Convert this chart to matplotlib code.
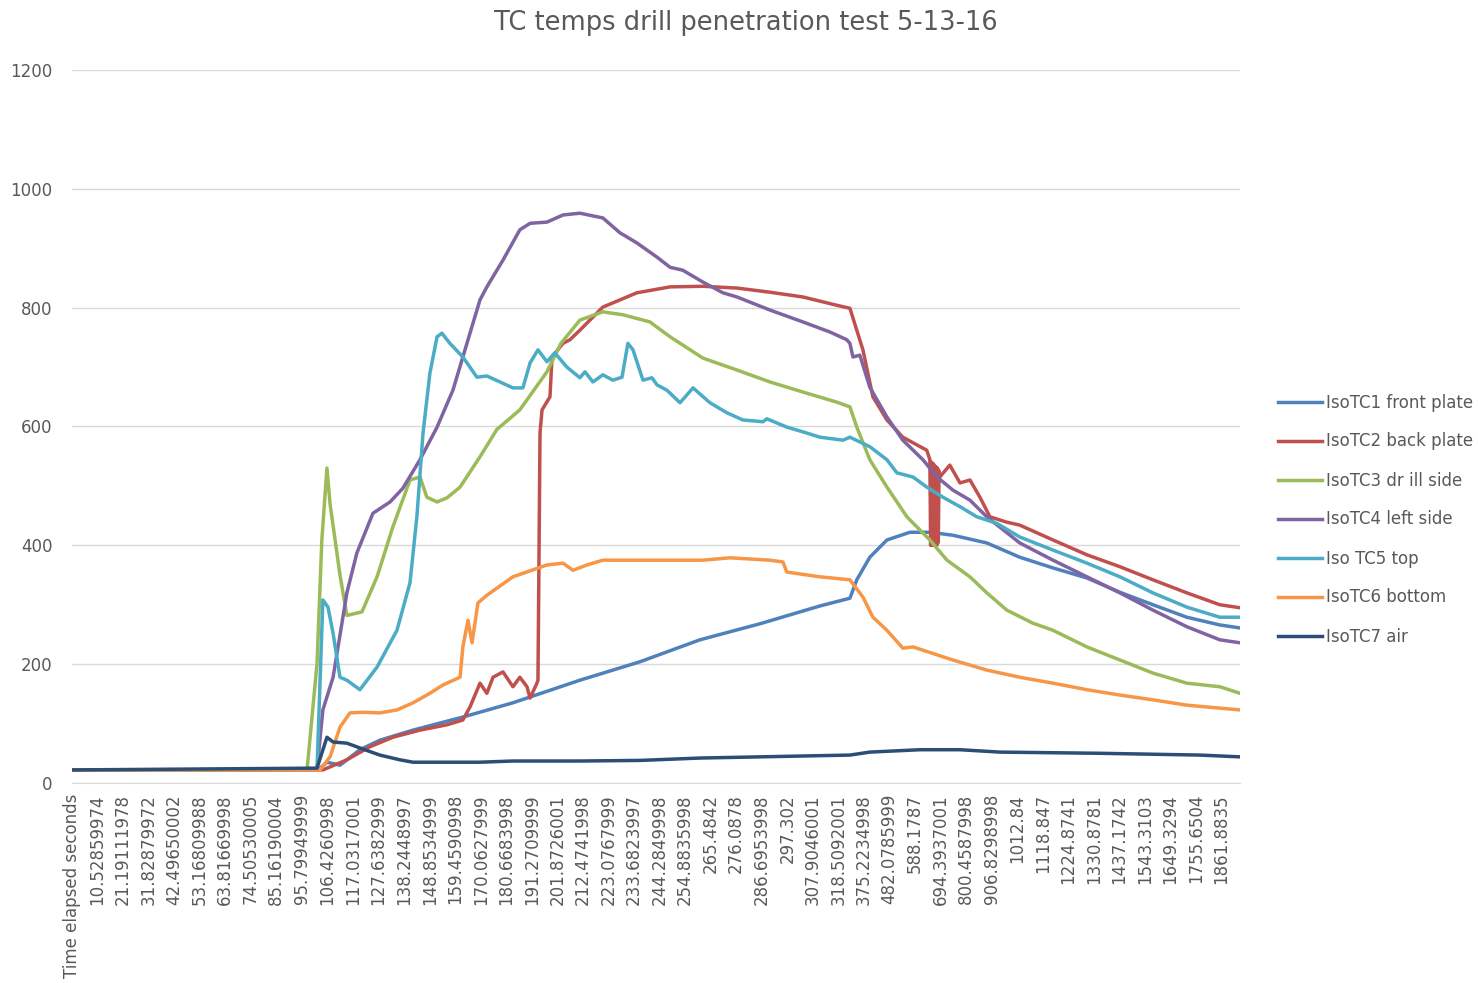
import matplotlib
matplotlib.use("Agg")
import matplotlib.pyplot as plt

# ---------------- data ----------------
title = "TC temps drill penetration test 5-13-16"

tick_labels = [
    "Time elapsed seconds", "10.52859974", "21.19111978", "31.82879972", "42.49650002",
    "53.16809988", "63.81669998", "74.50530005", "85.16190004", "95.79949999",
    "106.4260998", "117.0317001", "127.6382999", "138.2448997", "148.8534999",
    "159.4590998", "170.0627999", "180.6683998", "191.2709999", "201.8726001",
    "212.4741998", "223.0767999", "233.6823997", "244.2849998", "254.8835998",
    "265.4842", "276.0878", "286.6953998", "297.302", "307.9046001",
    "318.5092001", "375.2234998", "482.0785999", "588.1787", "694.3937001",
    "800.4587998", "906.8298998", "1012.84", "1118.847", "1224.8741",
    "1330.8781", "1437.1742", "1543.3103", "1649.3294", "1755.6504", "1861.8835",
]

# positions are in units of category-label intervals
tc1_x = [0, 9.63, 9.98, 10.49, 11.27, 12.05, 13.35, 15.30, 17.26, 19.88, 22.23, 24.58,
         26.93, 29.28, 30.45, 30.72, 31.23, 31.90, 32.80, 33.58, 34.48, 35.81, 37.10,
         38.40, 39.73, 41.02, 42.31, 43.64, 44.93, 45.72]
tc1_y = [22, 22, 35, 30, 56, 72, 89, 111, 135, 173, 204, 241,
         268, 298, 311, 342, 380, 409, 422, 422, 417, 404, 380,
         362, 345, 321, 300, 279, 266, 261]

tc2_x = [0, 9.63, 9.82, 10.76, 11.66, 12.56, 13.62, 14.68, 15.30, 15.58, 15.97, 16.24,
         16.48, 16.87, 17.26, 17.53, 17.81, 17.93, 18.20, 18.24, 18.32, 18.40, 18.71,
         18.79, 19.22, 19.49, 19.88, 20.78, 22.11, 23.41, 24.70, 26.03, 27.32, 28.61,
         29.94, 30.45, 30.96, 31.35, 31.90, 32.52, 33.46, 33.58,
         33.61, 33.64, 33.67, 33.70, 33.73, 33.76, 33.79, 33.82, 33.85, 33.88, 33.91, 33.94,
         33.97, 34.36, 34.76, 35.15, 35.54, 35.93, 36.59, 37.10, 38.40, 39.73, 41.02,
         42.31, 43.64, 44.93, 45.72]
tc2_y = [22, 22, 22, 39, 61, 77, 89, 98, 106, 128, 168, 151,
         178, 187, 162, 178, 162, 143, 168, 173, 590, 628, 650,
         717, 740, 746, 762, 801, 825, 835, 836, 833, 826, 818,
         804, 799, 729, 650, 611, 582, 560, 544,
         400, 540, 400, 538, 400, 535, 400, 532, 400, 530, 405, 525,
         515, 535, 505, 510, 481, 448, 439, 434, 409, 384, 364,
         342, 320, 300, 295]

tc3_x = [0, 9.12, 9.20, 9.59, 9.78, 9.98, 10.10, 10.49, 10.76, 11.35, 11.94, 12.56,
         13.23, 13.62, 13.89, 14.29, 14.68, 15.19, 15.97, 16.63, 17.53, 18.59, 19.14,
         19.88, 20.78, 21.57, 22.62, 23.41, 24.70, 26.03, 27.32, 28.61, 29.94, 30.45,
         30.72, 31.23, 31.90, 32.68, 33.58, 34.25, 35.15, 35.81, 36.59, 37.61, 38.40,
         39.73, 41.02, 42.31, 43.64, 44.93, 45.72]
tc3_y = [22, 22, 22, 200, 409, 530, 470, 350, 282, 288, 347, 431,
         510, 515, 481, 473, 480, 498, 549, 595, 628, 692, 740,
         779, 793, 788, 776, 751, 715, 695, 675, 658, 641, 633,
         599, 544, 498, 448, 409, 375, 347, 320, 291, 269, 257,
         229, 207, 185, 168, 162, 151]

tc4_x = [0, 9.59, 9.82, 10.22, 10.76, 11.15, 11.78, 12.45, 12.95, 13.62, 14.29, 14.91,
         15.46, 15.97, 16.24, 16.87, 17.53, 17.93, 18.59, 19.22, 19.88, 20.78, 21.45,
         22.11, 22.90, 23.41, 23.91, 24.70, 25.48, 26.03, 27.32, 28.61, 29.67, 30.33,
         30.45, 30.57, 30.84, 31.23, 31.90, 32.52, 33.31, 33.86, 34.48, 35.15, 35.81,
         37.10, 38.40, 39.73, 41.02, 42.31, 43.64, 44.93, 45.72]
tc4_y = [22, 22, 123, 178, 320, 387, 454, 473, 496, 544, 599, 661,
         740, 813, 835, 880, 931, 942, 944, 956, 959, 951, 926,
         909, 885, 868, 863, 843, 825, 818, 796, 776, 759, 746,
         740, 717, 720, 666, 616, 577, 544, 515, 493, 476, 448,
         404, 375, 347, 320, 291, 263, 241, 236]

tc5_x = [0, 9.59, 9.82, 10.02, 10.22, 10.49, 10.76, 11.27, 11.94, 12.72, 13.23, 13.50,
         13.74, 14.01, 14.29, 14.48, 14.79, 15.30, 15.85, 16.24, 17.26, 17.65, 17.93,
         18.24, 18.59, 18.90, 19.37, 19.88, 20.08, 20.39, 20.78, 21.17, 21.53, 21.76,
         21.96, 22.35, 22.70, 22.90, 23.29, 23.80, 24.31, 24.97, 25.64, 26.26, 27.05,
         27.20, 27.98, 28.61, 29.28, 30.18, 30.45, 31.23, 31.90, 32.29, 32.92, 33.46,
         34.09, 34.76, 35.42, 36.20, 37.10, 38.40, 39.73, 41.02, 42.31, 43.64, 44.93, 45.72]
tc5_y = [22, 22, 308, 296, 252, 178, 173, 157, 195, 257, 337, 448,
         589, 690, 751, 757, 740, 717, 683, 685, 665, 665, 707,
         729, 709, 724, 700, 682, 692, 675, 687, 678, 683, 740,
         729, 678, 682, 670, 661, 640, 665, 640, 623, 611, 608,
         613, 599, 591, 582, 577, 582, 566, 544, 522, 515, 498,
         481, 465, 448, 437, 414, 392, 370, 347, 320, 296, 279, 279]

tc6_x = [0, 9.71, 10.10, 10.49, 10.88, 11.39, 12.05, 12.72, 13.35, 14.01, 14.52, 15.19,
         15.30, 15.50, 15.66, 15.89, 16.24, 17.26, 18.59, 19.22, 19.61, 20.16, 20.78,
         22.11, 23.41, 24.70, 25.75, 27.32, 27.83, 27.98, 29.28, 30.45, 30.96, 31.35,
         31.90, 32.52, 32.92, 34.48, 35.81, 37.10, 38.40, 39.73, 41.02, 42.31, 43.64,
         44.93, 45.72]
tc6_y = [22, 22, 44, 94, 118, 119, 118, 123, 135, 151, 165, 178,
         229, 274, 236, 303, 316, 347, 367, 370, 358, 367, 375,
         375, 375, 375, 379, 375, 372, 355, 347, 342, 313, 279,
         257, 227, 229, 207, 190, 178, 168, 157, 148, 140, 131,
         126, 123]

tc7_x = [0, 9.59, 9.98, 10.22, 10.76, 11.27, 12.05, 12.84, 13.35, 15.97, 17.26, 19.88,
         22.23, 24.58, 30.45, 31.23, 33.19, 34.76, 36.32, 40.23, 44.15, 45.72]
tc7_y = [22, 25, 77, 69, 67, 59, 47, 39, 35, 35, 37, 37,
         38, 42, 47, 52, 56, 56, 52, 50, 47, 44]

series_names = ["IsoTC1 front plate", "IsoTC2 back plate", "IsoTC3 dr ill side",
                "IsoTC4 left side", "Iso TC5 top", "IsoTC6 bottom", "IsoTC7 air"]
series_colors = ["#4F81BD", "#C0504D", "#9BBB59", "#8064A2", "#4BACC6", "#F79646", "#2C4D75"]

y_ticks = [0, 200, 400, 600, 800, 1000, 1200]

# ---------------- plot ----------------
fig = plt.figure(figsize=(14.78, 9.83), dpi=100)
ax = fig.add_axes([72 / 1478, 1 - 783 / 983, (1240 - 72) / 1478, (783 - 70) / 983])

all_x = [tc1_x, tc2_x, tc3_x, tc4_x, tc5_x, tc6_x, tc7_x]
all_y = [tc1_y, tc2_y, tc3_y, tc4_y, tc5_y, tc6_y, tc7_y]
for xs, ys, name, col in zip(all_x, all_y, series_names, series_colors):
    ax.plot(xs, ys, color=col, lw=2.5, label=name, solid_joinstyle="round")

ax.set_xlim(0, 45.72)
ax.set_ylim(0, 1200)
ax.set_yticks(y_ticks)
ax.set_yticklabels([str(v) for v in y_ticks], fontsize=12, color="#595959")
ax.set_xticks(range(len(tick_labels)))
ax.set_xticklabels(tick_labels, rotation=90, fontsize=12, color="#595959", va="top")
ax.tick_params(axis="both", length=0)
ax.tick_params(axis="y", pad=14)
ax.tick_params(axis="x", pad=8)
ax.grid(axis="y", color="#D9D9D9", lw=1)
ax.set_axisbelow(True)
for s in ["top", "right", "left"]:
    ax.spines[s].set_visible(False)
ax.spines["bottom"].set_color("#D9D9D9")

fig.text(746 / 1478, 1 - 23 / 983, title, ha="center", va="center",
         fontsize=18.5, color="#595959")

fig.legend(loc="center left", bbox_to_anchor=(1270 / 1478, 1 - 519.5 / 983),
           frameon=False, fontsize=12, handlelength=2.6, handletextpad=0.25,
           labelspacing=1.26, borderpad=0, labelcolor="#595959")

fig.savefig("out.png", dpi=100)
